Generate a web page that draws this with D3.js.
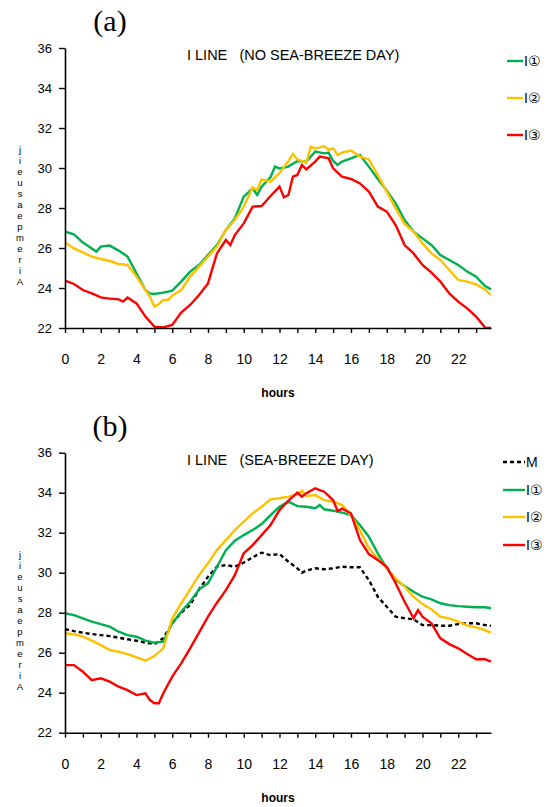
<!DOCTYPE html>
<html>
<head>
<meta charset="utf-8">
<script src="https://cdn.jsdelivr.net/npm/d3@7"></script>
<style>
  body { margin: 0; background: #fff; }
</style>
</head>
<body>
<div id="chart-area"></div>
<script>
// hours of day, values in deg C: [hour, temp]
let aGreen = [[0,26.82],[0.5,26.68],[1,26.27],[1.5,25.98],[1.75,25.82],[2,26.07],[2.5,26.12],[3,25.87],[3.5,25.57],[4,24.73],[4.5,23.9],[4.75,23.73],[5,23.7],[5.5,23.77],[6,23.87],[6.5,24.32],[7,24.82],[7.5,25.15],[8,25.65],[8.5,26.15],[9,26.9],[9.5,27.48],[10,28.57],[10.5,28.98],[10.75,28.65],[11,29.07],[11.5,29.55],[11.75,30.07],[12,29.98],[12.5,30.07],[13,30.35],[13.5,30.32],[14,30.82],[14.5,30.73],[14.75,30.77],[15,30.35],[15.25,30.15],[15.5,30.32],[16,30.48],[16.5,30.65],[17,30.07],[17.5,29.45],[18,28.87],[18.5,28.23],[19,27.4],[19.5,26.82],[20,26.48],[20.5,26.15],[21,25.65],[21.5,25.4],[22,25.15],[22.5,24.82],[23,24.57],[23.5,24.1],[23.83,23.93]];
let aYellow = [[0,26.27],[0.5,25.98],[1,25.78],[1.5,25.57],[2,25.45],[2.5,25.35],[3,25.2],[3.5,25.15],[4,24.57],[4.5,23.9],[4.75,23.57],[5,23.07],[5.25,23.2],[5.5,23.4],[5.75,23.4],[6,23.62],[6.5,23.9],[7,24.57],[7.5,25.07],[8,25.57],[8.5,26.07],[9,26.9],[9.5,27.4],[10,28.07],[10.5,29.03],[10.75,28.9],[11,29.43],[11.5,29.32],[12,29.75],[12.5,30.35],[12.75,30.7],[13,30.43],[13.5,30.27],[13.75,31.07],[14,30.98],[14.25,31.03],[14.5,31.1],[14.75,30.9],[15,30.98],[15.25,30.65],[15.5,30.77],[16,30.87],[16.5,30.57],[17,30.43],[17.5,29.65],[18,28.82],[18.5,27.98],[19,27.2],[19.5,26.82],[20,26.23],[20.5,25.73],[21,25.4],[21.5,24.9],[22,24.4],[22.5,24.32],[23,24.18],[23.5,23.93],[23.83,23.65]];
let aRed = [[0,24.37],[0.5,24.2],[1,23.9],[1.5,23.73],[2,23.53],[2.5,23.47],[3,23.43],[3.25,23.32],[3.5,23.52],[4,23.23],[4.5,22.57],[5,22.07],[5.5,22.03],[6,22.15],[6.5,22.77],[7,23.15],[7.5,23.65],[8,24.23],[8.5,25.73],[9,26.4],[9.25,26.15],[9.5,26.65],[10,27.23],[10.5,28.07],[11,28.1],[11.5,28.6],[12,29.07],[12.25,28.53],[12.5,28.65],[12.75,29.57],[13,29.65],[13.25,30.15],[13.5,29.93],[14,30.32],[14.25,30.57],[14.5,30.53],[14.75,30.48],[15,29.98],[15.5,29.57],[16,29.45],[16.5,29.23],[17,28.82],[17.5,28.07],[18,27.82],[18.5,27.15],[19,26.15],[19.5,25.73],[20,25.15],[20.5,24.77],[21,24.32],[21.5,23.73],[22,23.32],[22.5,22.98],[23,22.57],[23.5,22.02],[23.83,22.0]];

let bBlack = [[0,27.18],[0.5,27.08],[1,27.0],[1.5,26.93],[2,26.88],[2.5,26.83],[3,26.75],[3.5,26.67],[4,26.6],[4.5,26.5],[5,26.43],[5.5,26.72],[6,27.47],[6.5,28.0],[7,28.38],[7.5,29.17],[8,29.8],[8.5,30.3],[9,30.38],[9.5,30.3],[10,30.5],[10.5,30.77],[11,31.0],[11.5,30.88],[12,30.93],[12.5,30.55],[13,30.22],[13.25,30.0],[13.5,30.1],[14,30.22],[14.5,30.17],[15,30.22],[15.5,30.3],[16,30.27],[16.5,30.27],[17,29.63],[17.5,28.8],[18,28.3],[18.5,27.8],[19,27.72],[19.5,27.67],[20,27.38],[20.5,27.38],[21,27.35],[21.5,27.35],[22,27.43],[22.5,27.47],[23,27.47],[23.5,27.38],[23.83,27.35]];
let bGreen = [[0,27.97],[0.5,27.88],[1,27.72],[1.5,27.55],[2,27.43],[2.5,27.3],[3,27.05],[3.5,26.88],[4,26.8],[4.5,26.6],[5,26.5],[5.5,26.55],[6,27.47],[6.5,28.05],[7,28.55],[7.5,29.17],[8,29.47],[8.5,30.3],[9,31.13],[9.5,31.6],[10,31.88],[10.5,32.13],[11,32.43],[11.5,32.88],[12,33.3],[12.5,33.55],[13,33.33],[13.5,33.3],[14,33.22],[14.25,33.38],[14.5,33.17],[15,33.1],[15.5,33.0],[16,32.88],[16.5,32.38],[17,31.8],[17.5,30.97],[18,30.22],[18.5,29.63],[19,29.33],[19.5,29.05],[20,28.8],[20.5,28.67],[21,28.47],[21.5,28.38],[22,28.33],[22.5,28.3],[23,28.27],[23.5,28.27],[23.83,28.22]];
let bYellow = [[0,26.97],[0.5,26.92],[1,26.8],[1.5,26.6],[2,26.38],[2.5,26.13],[3,26.05],[3.5,25.93],[4,25.77],[4.5,25.6],[5,25.83],[5.5,26.22],[6,27.72],[6.5,28.47],[7,29.17],[7.5,29.88],[8,30.47],[8.5,31.13],[9,31.63],[9.5,32.13],[10,32.55],[10.5,32.97],[11,33.3],[11.5,33.67],[12,33.72],[12.5,33.8],[13,33.92],[13.25,34.1],[13.5,33.83],[14,33.88],[14.5,33.63],[15,33.55],[15.5,33.38],[16,32.88],[16.5,32.13],[17,31.22],[17.5,30.72],[18,30.22],[18.5,29.72],[19,29.3],[19.5,28.8],[20,28.43],[20.5,28.17],[21,27.8],[21.5,27.72],[22,27.55],[22.5,27.35],[23,27.27],[23.5,27.13],[23.83,27.0]];
let bRed = [[0,25.38],[0.5,25.38],[1,25.05],[1.5,24.63],[2,24.72],[2.5,24.55],[3,24.3],[3.5,24.13],[4,23.88],[4.5,23.97],[4.75,23.63],[5,23.47],[5.25,23.47],[5.5,23.97],[6,24.8],[6.5,25.47],[7,26.22],[7.5,27.0],[8,27.8],[8.5,28.5],[9,29.13],[9.5,29.88],[10,30.97],[10.5,31.38],[11,31.88],[11.5,32.38],[12,33.13],[12.5,33.6],[13,34.0],[13.25,33.8],[13.5,33.97],[14,34.22],[14.25,34.13],[14.5,34.05],[15,33.63],[15.25,33.08],[15.5,33.2],[16,32.97],[16.5,31.63],[17,30.93],[17.5,30.63],[18,30.3],[18.5,29.47],[19,28.55],[19.5,27.72],[19.75,28.13],[20,27.8],[20.5,27.47],[21,26.72],[21.5,26.43],[22,26.22],[22.5,25.93],[23,25.67],[23.5,25.68],[23.83,25.55]];

let yTicks = [22, 24, 26, 28, 30, 32, 34, 36];
let hourTicks = d3.range(0, 24);
let legendA = ["I\u2460", "I\u2461", "I\u2462"];
let legendB = ["M", "I\u2460", "I\u2461", "I\u2462"];
let yLabelChars = ["j", "i", "e", "u", "s", "a", "e", "p", "m", "e", "r", "i", "A"];

const SANS = "Liberation Sans, Arial, sans-serif";

let svg = d3.select("#chart-area")
    .append("svg")
    .attr("width", 554)
    .attr("height", 807)
    .style("font-family", SANS);

let x = d3.scaleLinear()
    .domain([0, 143 / 6])
    .range([65, 491]);

let colors = { green: "#00b050", yellow: "#ffc000", red: "#ff0000", black: "#000" };

function panel(top, letter, title, series, legend) {
    let y = d3.scaleLinear().domain([22, 36]).range([top + 280, top]);

    let line = d3.line()
        .x(d => x(d[0]))
        .y(d => y(d[1]));

    series.forEach(function (s) {
        svg.append("path")
            .datum(s.data)
            .attr("fill", "none")
            .attr("stroke", colors[s.color])
            .attr("stroke-width", 2.4)
            .attr("stroke-dasharray", s.dash ? "4,3" : null)
            .attr("d", line);
    });

    let yAxis = svg.append("g")
        .attr("transform", "translate(65,0)")
        .call(d3.axisLeft(y).tickValues(yTicks).tickSize(6).tickSizeOuter(0).tickPadding(7));
    yAxis.selectAll("text").style("font-size", "13px").style("font-family", SANS);

    let xAxis = svg.append("g")
        .attr("transform", "translate(0," + (top + 280) + ")")
        .call(d3.axisBottom(x).tickValues(hourTicks).tickSize(5).tickSizeOuter(0).tickPadding(21)
            .tickFormat(d => d % 2 === 0 ? d : ""));
    xAxis.selectAll("text").style("font-size", "14px").style("font-family", SANS);

    [yAxis, xAxis].forEach(function (g) {
        g.select(".domain").attr("stroke-width", 1.6);
        g.selectAll(".tick line").attr("stroke-width", 1.4);
    });

    svg.append("text")
        .attr("x", 278)
        .attr("y", top + 349)
        .attr("text-anchor", "middle")
        .style("font-size", "12px")
        .style("font-weight", "bold")
        .text("hours");

    svg.append("text")
        .attr("x", 110)
        .attr("y", top - 17)
        .attr("text-anchor", "middle")
        .style("font-family", "Liberation Serif, 'Times New Roman', serif")
        .style("font-size", "30px")
        .text(letter);

    svg.append("text")
        .attr("x", 187)
        .attr("y", top + 12)
        .style("font-size", "14.5px")
        .style("white-space", "pre")
        .text(title);

    // garbled vertical axis title, as in the figure
    yLabelChars.forEach(function (c, i) {
        svg.append("text")
            .attr("x", 20)
            .attr("y", top + 105 + i * 11)
            .attr("text-anchor", "middle")
            .style("font-size", "9.5px")
            .text(c);
    });

    legend.forEach(function (l) {
        svg.append("line")
            .attr("x1", l.x0).attr("x2", l.x1)
            .attr("y1", l.y).attr("y2", l.y)
            .attr("stroke", colors[l.color])
            .attr("stroke-width", 2.4)
            .attr("stroke-dasharray", l.dash ? "4,3" : null);
        svg.append("text")
            .attr("x", l.x1 + 1)
            .attr("y", l.y + 5)
            .style("font-size", "14px")
            .style("font-family", "Liberation Sans, DejaVu Sans, sans-serif")
            .text(l.label);
    });
}

panel(48, "(a)", "I LINE   (NO SEA-BREEZE DAY)",
    [
        { data: aGreen, color: "green" },
        { data: aYellow, color: "yellow" },
        { data: aRed, color: "red" }
    ],
    [
        { label: legendA[0], color: "green", y: 61, x0: 507, x1: 523 },
        { label: legendA[1], color: "yellow", y: 98, x0: 507, x1: 523 },
        { label: legendA[2], color: "red", y: 135, x0: 507, x1: 523 }
    ]);

panel(452.7, "(b)", "I LINE   (SEA-BREEZE DAY)",
    [
        { data: bBlack, color: "black", dash: true },
        { data: bGreen, color: "green" },
        { data: bYellow, color: "yellow" },
        { data: bRed, color: "red" }
    ],
    [
        { label: legendB[0], color: "black", dash: true, y: 462, x0: 503, x1: 525 },
        { label: legendB[1], color: "green", y: 490, x0: 503, x1: 525 },
        { label: legendB[2], color: "yellow", y: 517, x0: 503, x1: 525 },
        { label: legendB[3], color: "red", y: 545, x0: 503, x1: 525 }
    ]);
</script>
</body>
</html>
